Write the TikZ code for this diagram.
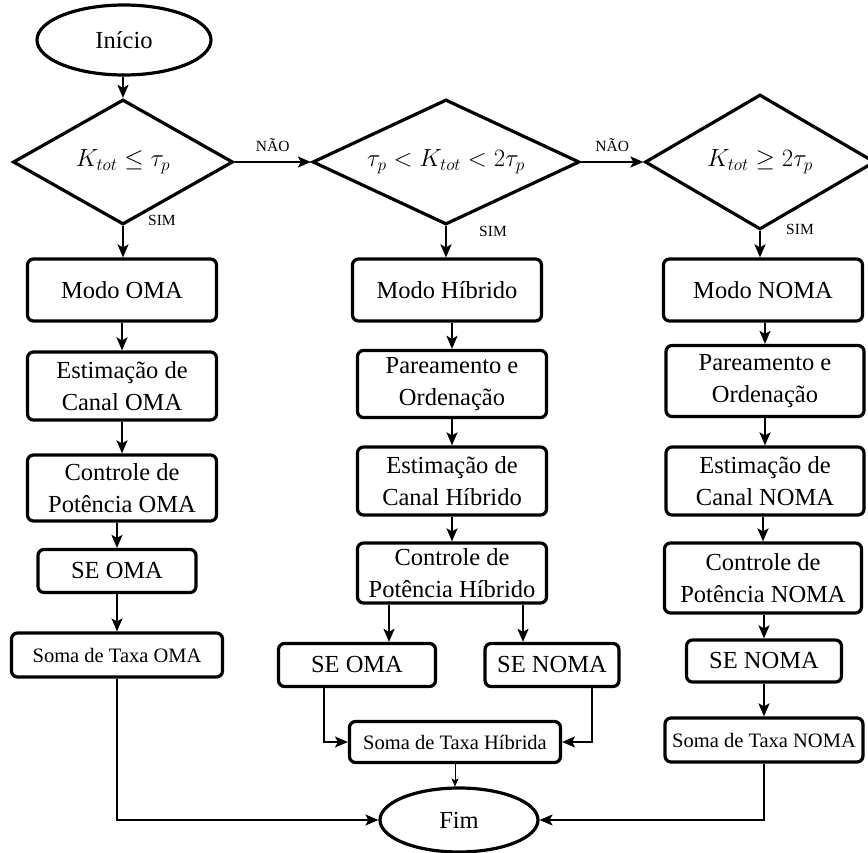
\documentclass[tikz,border=0pt]{standalone}
\usepackage{fontspec}
\setmainfont{Liberation Serif}
\usetikzlibrary{shapes.geometric,arrows.meta}

\begin{document}
\begin{tikzpicture}[x=1pt,y=-1pt,
  every node/.style={inner sep=0pt, align=center},
  txt/.style={font=\fontsize{24.5}{31.5}\selectfont},
  smalltxt/.style={font=\fontsize{20.5}{24}\selectfont},
  lbl/.style={font=\fontsize{15.5}{18}\selectfont},
  procbox/.style={txt, draw, line width=3.2pt, rounded corners=6pt},
  termin/.style={txt, draw, ellipse, line width=3.2pt},
  decision/.style={diamond, draw, line width=3.2pt, aspect=2,
    font=\fontsize{26}{30}\selectfont},
  arr/.style={line width=2pt, -{Stealth[length=13pt,width=11pt,inset=3pt]}},
  thinarr/.style={line width=1.4pt, -{Stealth[length=13pt,width=11pt,inset=3pt]}},
  tinyarr/.style={line width=1pt, -{Stealth[length=8pt,width=7pt,inset=2pt]}}
]
\useasboundingbox[fill=white] (0,0) rectangle (868,853);

% start and decisions
\node[termin, minimum width=174, minimum height=70] (inicio) at (124,40) {Início};
\node[decision, minimum width=220, minimum height=125] (d1) at (123,162) {$K_{tot} \leq \tau_p$};
\node[decision, minimum width=267, minimum height=125] (d2) at (446,162) {$\tau_p < K_{tot} < 2\tau_p$};
\node[decision, minimum width=230, minimum height=135] (d3) at (760,162) {$K_{tot} \geq 2\tau_p$};

% OMA branch
\node[procbox, minimum width=189, minimum height=62] (modoO) at (122,290) {Modo OMA};
\node[procbox, minimum width=189, minimum height=68] (estO) at (122,386) {Estimação de\\Canal OMA};
\node[procbox, minimum width=189, minimum height=66] (ctrlO) at (122,488) {Controle de\\Potência OMA};
\node[procbox, minimum width=158, minimum height=43] (seO) at (117,571) {SE OMA};
\node[procbox, smalltxt, minimum width=211, minimum height=44] (somaO) at (117,655) {Soma de Taxa OMA};

% hybrid branch
\node[procbox, minimum width=189, minimum height=62] (modoH) at (447,290) {Modo Híbrido};
\node[procbox, minimum width=189, minimum height=67] (parH) at (452,384) {Pareamento e\\Ordenação};
\node[procbox, minimum width=189, minimum height=68] (estH) at (452,481) {Estimação de\\Canal Híbrido};
\node[procbox, minimum width=189, minimum height=60] (ctrlH) at (452,573) {Controle de\\Potência Híbrido};
\node[procbox, minimum width=157, minimum height=43] (seOH) at (357,665) {SE OMA};
\node[procbox, minimum width=134, minimum height=43] (seNH) at (552,665) {SE NOMA};
\node[procbox, smalltxt, minimum width=211, minimum height=41] (somaH) at (455,742) {Soma de Taxa Híbrida};
\node[termin, minimum width=158, minimum height=64] (fim) at (459,820) {Fim};

% NOMA branch
\node[procbox, minimum width=199, minimum height=62] (modoN) at (763,290) {Modo NOMA};
\node[procbox, minimum width=198, minimum height=71] (parN) at (765,381) {Pareamento e\\Ordenação};
\node[procbox, minimum width=198, minimum height=68] (estN) at (765,481) {Estimação de\\Canal NOMA};
\node[procbox, minimum width=197, minimum height=70] (ctrlN) at (763,578) {Controle de\\Potência NOMA};
\node[procbox, minimum width=155, minimum height=42] (seN) at (764,661) {SE NOMA};
\node[procbox, smalltxt, minimum width=198, minimum height=44] (somaN) at (764,740) {Soma de Taxa NOMA};

% decision links
\draw[arr] (inicio.south -| d1.north) -- (d1.north);
\draw[arr] (d1.east) -- node[lbl, above=9pt] {NÃO} (d2.west);
\draw[arr] (d2.east) -- node[lbl, above=9pt] {NÃO} (d3.west);
\draw[arr] (d1.south) -- (d1.south |- modoO.north);
\draw[arr] (d2.south) -- (d2.south |- modoH.north);
\draw[arr] (d3.south) -- (d3.south |- modoN.north);
\node[lbl] (sim1) at ([xshift=39pt,yshift=6pt]d1.south) {SIM};
\node[lbl] (sim2) at ([xshift=47pt,yshift=-5pt]d2.south) {SIM};
\node[lbl] (sim3) at ([xshift=40pt,yshift=2pt]d3.south) {SIM};

% OMA chain
\draw[arr] (modoO) -- (estO);
\draw[arr] (estO) -- (ctrlO);
\draw[arr] (seO.north |- ctrlO.south) -- (seO.north);
\draw[arr] (seO) -- (somaO);
\draw[thinarr] (somaO.south) |- (fim.west);

% hybrid chain
\draw[arr] (modoH.south -| parH.north) -- (parH.north);
\draw[arr] (parH) -- (estH);
\draw[arr] (estH) -- (ctrlH);
\draw[arr] ([xshift=-63pt]ctrlH.south) -- ([xshift=-63pt]ctrlH.south |- seOH.north);
\draw[arr] ([xshift=71pt]ctrlH.south) -- ([xshift=71pt]ctrlH.south |- seNH.north);
\draw[thinarr] ([xshift=-33pt]seOH.south) |- (somaH.west);
\draw[thinarr] ([xshift=40pt]seNH.south) |- (somaH.east);
\draw[tinyarr] (somaH.south) -- (somaH.south |- fim.north);

% NOMA chain
\draw[arr] (modoN.south -| parN.north) -- (parN.north);
\draw[arr] (parN) -- (estN);
\draw[arr] (estN.south -| ctrlN.north) -- (ctrlN.north);
\draw[arr] (ctrlN.south -| seN.north) -- (seN.north);
\draw[arr] (seN) -- (somaN);
\draw[thinarr] (somaN.south) |- (fim.east);
\end{tikzpicture}
\end{document}
